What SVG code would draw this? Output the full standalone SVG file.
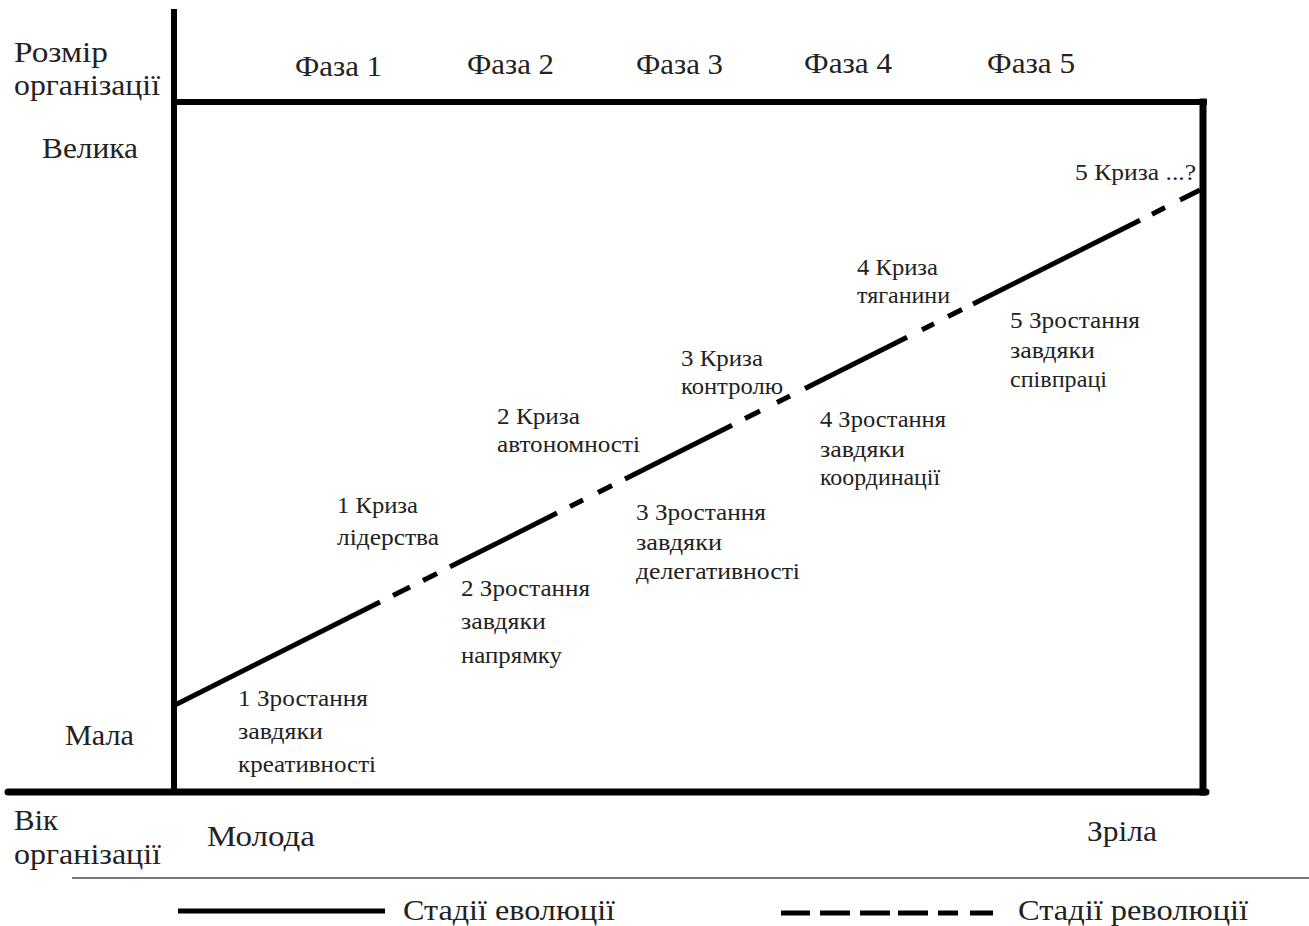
<svg xmlns="http://www.w3.org/2000/svg" width="1309" height="926" viewBox="0 0 1309 926">
<rect width="1309" height="926" fill="#fff"/>
<g id="frame" stroke="#000" fill="none">
<line x1="174" y1="12" x2="174" y2="792" stroke-width="6" stroke-linecap="square"/>
<line x1="174" y1="102" x2="1204" y2="102" stroke-width="6" stroke-linecap="square"/>
<line x1="1203" y1="102" x2="1203" y2="792" stroke-width="7" stroke-linecap="square"/>
<line x1="8" y1="792" x2="1206" y2="792" stroke-width="7" stroke-linecap="round"/>
<line x1="72" y1="878" x2="1309" y2="878" stroke="#777" stroke-width="2"/>
</g>
<g id="axis-labels">
<text font-family="Liberation Serif" font-size="30" fill="#222" x="14" y="62" textLength="94" lengthAdjust="spacingAndGlyphs">Розмір</text>
<text font-family="Liberation Serif" font-size="30" fill="#222" x="14" y="95" textLength="146" lengthAdjust="spacingAndGlyphs">організації</text>
<text font-family="Liberation Serif" font-size="30" fill="#222" x="42" y="158" textLength="96" lengthAdjust="spacingAndGlyphs">Велика</text>
<text font-family="Liberation Serif" font-size="30" fill="#222" x="65" y="745" textLength="69" lengthAdjust="spacingAndGlyphs">Мала</text>
<text font-family="Liberation Serif" font-size="30" fill="#222" x="14" y="830" textLength="44" lengthAdjust="spacingAndGlyphs">Вік</text>
<text font-family="Liberation Serif" font-size="30" fill="#222" x="14" y="864" textLength="147" lengthAdjust="spacingAndGlyphs">організації</text>
<text font-family="Liberation Serif" font-size="30" fill="#222" x="207" y="846" textLength="108" lengthAdjust="spacingAndGlyphs">Молода</text>
<text font-family="Liberation Serif" font-size="30" fill="#222" x="1087" y="841" textLength="70" lengthAdjust="spacingAndGlyphs">Зріла</text>
</g>
<g id="phases">
<text font-family="Liberation Serif" font-size="30" fill="#222" x="295" y="76" textLength="87" lengthAdjust="spacingAndGlyphs">Фаза 1</text>
<text font-family="Liberation Serif" font-size="30" fill="#222" x="467" y="74" textLength="87" lengthAdjust="spacingAndGlyphs">Фаза 2</text>
<text font-family="Liberation Serif" font-size="30" fill="#222" x="636" y="74" textLength="87" lengthAdjust="spacingAndGlyphs">Фаза 3</text>
<text font-family="Liberation Serif" font-size="30" fill="#222" x="804" y="73" textLength="88" lengthAdjust="spacingAndGlyphs">Фаза 4</text>
<text font-family="Liberation Serif" font-size="30" fill="#222" x="987" y="73" textLength="88" lengthAdjust="spacingAndGlyphs">Фаза 5</text>
</g>
<g id="connectors" stroke="#000" stroke-width="5" fill="none">
<line x1="175" y1="705" x2="380" y2="602"/>
<line x1="393" y1="595.5" x2="410" y2="586.9"/>
<line x1="423" y1="580.4" x2="437" y2="573.4"/>
<line x1="450" y1="566.8" x2="557" y2="513.1"/>
<line x1="570" y1="506.5" x2="583" y2="500"/>
<line x1="598" y1="492.5" x2="612" y2="485.5"/>
<line x1="625" y1="478.9" x2="732" y2="425.2"/>
<line x1="745" y1="418.6" x2="760" y2="411.1"/>
<line x1="777" y1="402.6" x2="790" y2="396"/>
<line x1="805" y1="388.5" x2="907" y2="337.2"/>
<line x1="922" y1="329.7" x2="934" y2="323.7"/>
<line x1="948" y1="316.6" x2="962" y2="309.6"/>
<line x1="973" y1="304.1" x2="1140" y2="220.2"/>
<line x1="1152" y1="214.2" x2="1165" y2="207.6"/>
<line x1="1180" y1="200.1" x2="1200" y2="190.1"/>
</g>
<g id="crisis-1"><text font-family="Liberation Serif" font-size="24" fill="#222" x="337" y="513" textLength="81" lengthAdjust="spacingAndGlyphs">1 Криза</text><text font-family="Liberation Serif" font-size="24" fill="#222" x="337" y="545" textLength="102" lengthAdjust="spacingAndGlyphs">лідерства</text></g>
<g id="crisis-2"><text font-family="Liberation Serif" font-size="24" fill="#222" x="497" y="424" textLength="83" lengthAdjust="spacingAndGlyphs">2 Криза</text><text font-family="Liberation Serif" font-size="24" fill="#222" x="497" y="452" textLength="143" lengthAdjust="spacingAndGlyphs">автономності</text></g>
<g id="crisis-3"><text font-family="Liberation Serif" font-size="24" fill="#222" x="681" y="366" textLength="82" lengthAdjust="spacingAndGlyphs">3 Криза</text><text font-family="Liberation Serif" font-size="24" fill="#222" x="681" y="394" textLength="102" lengthAdjust="spacingAndGlyphs">контролю</text></g>
<g id="crisis-4"><text font-family="Liberation Serif" font-size="24" fill="#222" x="857" y="275" textLength="81" lengthAdjust="spacingAndGlyphs">4 Криза</text><text font-family="Liberation Serif" font-size="24" fill="#222" x="857" y="303" textLength="93" lengthAdjust="spacingAndGlyphs">тяганини</text></g>
<g id="crisis-5"><text font-family="Liberation Serif" font-size="24" fill="#222" x="1075" y="180" textLength="121" lengthAdjust="spacingAndGlyphs">5 Криза ...?</text></g>
<g id="growth-1"><text font-family="Liberation Serif" font-size="24" fill="#222" x="238" y="706" textLength="130" lengthAdjust="spacingAndGlyphs">1 Зростання</text><text font-family="Liberation Serif" font-size="24" fill="#222" x="238" y="739" textLength="85" lengthAdjust="spacingAndGlyphs">завдяки</text><text font-family="Liberation Serif" font-size="24" fill="#222" x="238" y="772" textLength="138" lengthAdjust="spacingAndGlyphs">креативності</text></g>
<g id="growth-2"><text font-family="Liberation Serif" font-size="24" fill="#222" x="461" y="596" textLength="129" lengthAdjust="spacingAndGlyphs">2 Зростання</text><text font-family="Liberation Serif" font-size="24" fill="#222" x="461" y="629" textLength="85" lengthAdjust="spacingAndGlyphs">завдяки</text><text font-family="Liberation Serif" font-size="24" fill="#222" x="461" y="663" textLength="101" lengthAdjust="spacingAndGlyphs">напрямку</text></g>
<g id="growth-3"><text font-family="Liberation Serif" font-size="24" fill="#222" x="636" y="520" textLength="130" lengthAdjust="spacingAndGlyphs">3 Зростання</text><text font-family="Liberation Serif" font-size="24" fill="#222" x="636" y="550" textLength="86" lengthAdjust="spacingAndGlyphs">завдяки</text><text font-family="Liberation Serif" font-size="24" fill="#222" x="636" y="579" textLength="164" lengthAdjust="spacingAndGlyphs">делегативності</text></g>
<g id="growth-4"><text font-family="Liberation Serif" font-size="24" fill="#222" x="820" y="427" textLength="126" lengthAdjust="spacingAndGlyphs">4 Зростання</text><text font-family="Liberation Serif" font-size="24" fill="#222" x="820" y="457" textLength="85" lengthAdjust="spacingAndGlyphs">завдяки</text><text font-family="Liberation Serif" font-size="24" fill="#222" x="820" y="485" textLength="120" lengthAdjust="spacingAndGlyphs">координації</text></g>
<g id="growth-5"><text font-family="Liberation Serif" font-size="24" fill="#222" x="1010" y="328" textLength="130" lengthAdjust="spacingAndGlyphs">5 Зростання</text><text font-family="Liberation Serif" font-size="24" fill="#222" x="1010" y="358" textLength="85" lengthAdjust="spacingAndGlyphs">завдяки</text><text font-family="Liberation Serif" font-size="24" fill="#222" x="1010" y="387" textLength="97" lengthAdjust="spacingAndGlyphs">співпраці</text></g>
<g id="legend">
<g stroke="#000" stroke-width="5">
<line x1="178" y1="911" x2="385" y2="911"/>
<line x1="781" y1="913" x2="810" y2="913"/>
<line x1="820" y1="913" x2="850" y2="913"/>
<line x1="860" y1="913" x2="890" y2="913"/>
<line x1="898" y1="913" x2="928" y2="913"/>
<line x1="938" y1="913" x2="958" y2="913"/>
<line x1="970" y1="913" x2="993" y2="913"/>
</g>
<text font-family="Liberation Serif" font-size="30" fill="#222" x="403" y="920" textLength="212" lengthAdjust="spacingAndGlyphs">Стадії еволюції</text>
<text font-family="Liberation Serif" font-size="30" fill="#222" x="1018" y="920" textLength="230" lengthAdjust="spacingAndGlyphs">Стадії революції</text>
</g>
</svg>
